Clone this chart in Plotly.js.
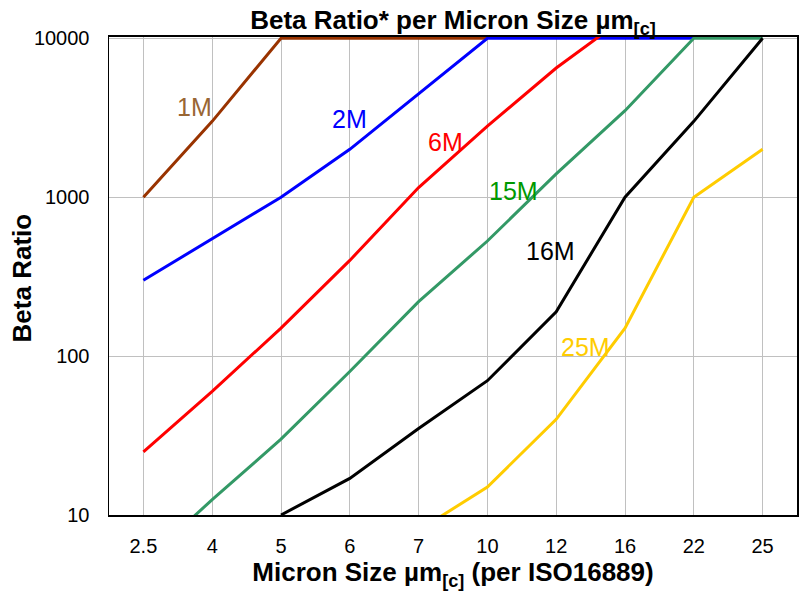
<!DOCTYPE html>
<html>
<head>
<meta charset="utf-8">
<script src="https://cdn.plot.ly/plotly-3.0.1.min.js"></script>
<style>
  html, body { margin: 0; padding: 0; background: #ffffff; }
  #chart { width: 807px; height: 594px; }
</style>
</head>
<body>
<div id="chart"></div>
<script>
// Micron sizes (per ISO16889), plotted as evenly spaced categories
const sizes = ['2.5', '4', '5', '6', '7', '10', '12', '16', '22', '25'];

// Beta ratio per micron size for each filter media grade
const beta1M  = [1000, 3000, 10000, 10000, 10000, 10000];
const beta2M  = [300, 550, 1000, 2000, 4500, 10000, 10000, 10000, 10000];
const beta6M  = [25, 60, 150, 400, 1150, 2800, 6500, 13500];
const beta15M = [5, 12.5, 30, 80, 220, 530, 1400, 3500, 10000, 10000];
const beta16M = [null, null, 10, 17, 35, 70, 190, 1000, 3000, 10000];
const beta25M = [null, null, null, null, 8, 15, 40, 150, 1000, 2000];

// Series names and colours
const seriesNames  = ['1M', '2M', '6M', '15M', '16M', '25M'];
const lineColors   = ['#993300', '#0000FF', '#FF0000', '#339966', '#000000', '#FFCC00'];
const labelColors  = ['#996633', '#0000FF', '#FF0000', '#009900', '#000000', '#FFCC00'];

// Where each series name sits: [category index, log10(beta)]
const labelPos = [[0.74, 3.57], [3.0, 3.49], [4.39, 3.35], [5.38, 3.04], [5.91, 2.66], [6.42, 2.06]];

// Reference threshold line
const threshold = 1000;

// Y ticks
const yTicks = [10, 100, 1000, 10000];
const yTickText = ['10', '100', '1000', '10000'];

const FONT = 'Liberation Sans, Arial, sans-serif';

const allSeries = [beta1M, beta2M, beta6M, beta15M, beta16M, beta25M];

const traces = allSeries.map((vals, i) => ({
  type: 'scatter',
  mode: 'lines',
  name: seriesNames[i],
  x: sizes.slice(0, vals.length),
  y: vals,
  line: { color: lineColors[i], width: 3 },
  connectgaps: false,
  hoverinfo: 'x+y+name'
}));

const annotations = seriesNames.map((name, i) => ({
  text: name,
  xref: 'x', yref: 'y',
  x: labelPos[i][0], y: labelPos[i][1],
  xanchor: 'center', yanchor: 'middle',
  showarrow: false,
  font: { family: FONT, size: 25, color: labelColors[i] }
}));

// Vertical y-axis title, placed beside the tick labels
annotations.push({
  text: '<b>Beta Ratio</b>',
  xref: 'paper', yref: 'paper',
  x: -0.1265, y: 0.497,
  xanchor: 'center', yanchor: 'middle',
  textangle: -90,
  showarrow: false,
  font: { family: FONT, size: 26, color: '#000000' }
});

const layout = {
  width: 807,
  height: 594,
  margin: { l: 109, r: 10, t: 37, b: 79 },
  paper_bgcolor: '#ffffff',
  plot_bgcolor: '#ffffff',
  showlegend: false,
  font: { family: FONT, color: '#000000' },
  title: {
    text: '<b>Beta Ratio* per Micron Size µm<sub>[c]</sub></b>',
    font: { size: 26, color: '#000000' },
    xref: 'paper', x: 0.5, xanchor: 'center',
    yref: 'container', y: 0.966, yanchor: 'middle'
  },
  xaxis: {
    type: 'category',
    categoryorder: 'array',
    categoryarray: sizes,
    range: [-0.5, sizes.length - 0.5],
    showgrid: true,
    gridcolor: '#C0C0C0',
    gridwidth: 1,
    showline: true,
    linecolor: '#000000',
    linewidth: 2,
    mirror: true,
    ticks: '',
    ticklabelstandoff: 12,
    tickfont: { size: 20, color: '#000000' },
    zeroline: false,
    title: {
      text: '<b>Micron Size µm<sub>[c]</sub> (per ISO16889)</b>',
      font: { size: 26, color: '#000000' },
      standoff: 7
    }
  },
  yaxis: {
    type: 'log',
    range: [1, 4.008],
    tickvals: yTicks,
    ticktext: yTickText,
    showgrid: true,
    gridcolor: '#C0C0C0',
    gridwidth: 1,
    showline: true,
    linecolor: '#000000',
    linewidth: 1.5,
    mirror: true,
    ticks: '',
    ticklabelstandoff: 14,
    tickfont: { size: 20, color: '#000000' },
    zeroline: false
  },
  shapes: [{
    type: 'line',
    xref: 'paper', yref: 'y',
    x0: -0.013, x1: 1.0145,
    y0: Math.log10(threshold), y1: Math.log10(threshold),
    line: { color: '#0000FF', width: 2.5, dash: 'dot' },
    layer: 'above'
  }],
  annotations: annotations
};

Plotly.newPlot('chart', traces, layout, { displayModeBar: false, staticPlot: true });
</script>
</body>
</html>
